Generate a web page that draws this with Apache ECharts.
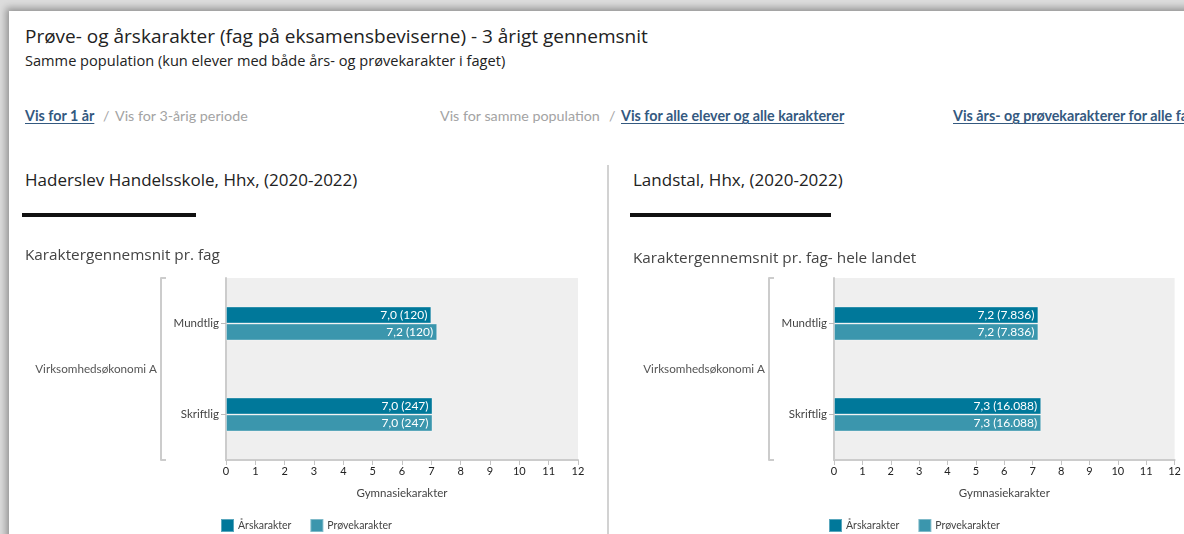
<!DOCTYPE html>
<html>
<head>
<meta charset="utf-8">
<title>Prøve- og årskarakter</title>
<script src="https://cdn.jsdelivr.net/npm/echarts@6/dist/echarts.min.js"></script>
<style>
	html, body { margin: 0; padding: 0; width: 1184px; height: 534px; overflow: hidden; background: #dcdcdc; }
	#card { position: absolute; left: 9px; top: 11px; width: 1220px; height: 560px; background: #fff; box-shadow: 0 0 7px 3px rgba(0, 0, 0, 0.33); }
	.t { position: absolute; white-space: nowrap; line-height: 1; }
	.h1 { font-family: 'Open Sans'; font-size: 19px; color: #222; }
	.h2 { font-family: 'Open Sans'; font-size: 14.6px; color: #222; }
	.lnk, .off, .sep { top: 109px; font-family: Lato; font-size: 14.3px; }
	.lnk { color: #34597f; font-weight: bold; text-decoration: underline; text-underline-offset: 2px; }
	.off, .sep { color: #a3a3a3; }
	.school { top: 171px; font-family: 'Open Sans'; font-size: 17px; color: #222; }
	.rule { position: absolute; top: 213px; height: 4px; background: #111; }
	#divider { position: absolute; left: 607px; top: 165px; width: 2px; height: 400px; background: #d2d2d2; }
	#chart { position: absolute; left: 0; top: 0; width: 1184px; height: 534px; }
</style>
</head>
<body>
<div id="card"></div>

<div class="t h1" style="left:25px; top:27px;">Prøve- og årskarakter (fag på eksamensbeviserne) - 3 årigt gennemsnit</div>
<div class="t h2" style="left:25px; top:53px;">Samme population (kun elever med både års- og prøvekarakter i faget)</div>

<div class="t lnk" style="left:25px;">Vis for 1 år</div>
<div class="t sep" style="left:103px;">/</div>
<div class="t off" style="left:115px;">Vis for 3-årig periode</div>
<div class="t off" style="left:440px;">Vis for samme population</div>
<div class="t sep" style="left:609px;">/</div>
<div class="t lnk" style="left:621px;">Vis for alle elever og alle karakterer</div>
<div class="t lnk" style="left:953px;">Vis års- og prøvekarakterer for alle fag</div>

<div id="divider"></div>

<div class="t school" style="left:25px;">Haderslev Handelsskole, Hhx, (2020-2022)</div>
<div class="rule" style="left:22px; width:174px;"></div>
<div class="t school" style="left:633px;">Landstal, Hhx, (2020-2022)</div>
<div class="rule" style="left:630px; width:201px;"></div>

<div id="chart"></div>

<script>
	// data
	const categories = ['Mundtlig', 'Skriftlig'];
	const groupLabel = ['Virksomhedsøkonomi A'];
	const seriesNames = ['Årskarakter', 'Prøvekarakter'];

	// Haderslev Handelsskole
	const schoolAars = [7.0, 7.04];
	const schoolAarsCount = [120, 247];
	const schoolProeve = [7.2, 7.04];
	const schoolProeveCount = [120, 247];

	// hele landet
	const landAars = [7.2, 7.3];
	const landAarsCount = [7836, 16088];
	const landProeve = [7.2, 7.3];
	const landProeveCount = [7836, 16088];

	const COLORS = ['#00789a', '#3b96ad'];
	const FONT = 'Lato';

	function fmtVal(v) {
		return v.toFixed(1).replace('.', ',');
	}

	function fmtCount(n) {
		return String(n).replace(/\B(?=(\d{3})+(?!\d))/g, '.');
	}

	function barSeries(name, values, counts, color, idx) {
		return {
			type: 'bar',
			name: name,
			xAxisIndex: idx,
			yAxisIndex: idx * 2,
			data: values,
			barWidth: 17,
			barGap: '0%',
			itemStyle: {
				color: color,
				borderColor: 'rgba(255,255,255,0.35)',
				borderWidth: 1
			},
			label: {
				show: true,
				position: 'insideRight',
				distance: 4,
				color: '#fff',
				fontFamily: FONT,
				fontSize: 12,
				formatter: p => fmtVal(p.value) + ' (' + fmtCount(counts[p.dataIndex]) + ')'
			},
			emphasis: { disabled: true }
		};
	}

	function xAxisFor(idx) {
		return {
			gridIndex: idx,
			type: 'value',
			min: 0,
			max: 12,
			interval: 1,
			name: 'Gymnasiekarakter',
			nameLocation: 'middle',
			nameGap: 27,
			nameTextStyle: { fontFamily: FONT, fontSize: 11.5, color: '#444' },
			axisLine: { show: true, lineStyle: { color: '#cccccc', width: 2 } },
			axisTick: { show: true, length: 5, lineStyle: { color: '#c4c4c4' } },
			axisLabel: { fontFamily: FONT, fontSize: 11, color: '#222', margin: 6 },
			splitLine: { show: false }
		};
	}

	function yAxesFor(idx) {
		return [{
			gridIndex: idx,
			type: 'category',
			data: categories,
			inverse: true,
			axisLine: { show: true, lineStyle: { color: '#cccccc', width: 2 } },
			axisTick: { show: true, alignWithLabel: true, length: 5, lineStyle: { color: '#bbbbbb' } },
			axisLabel: { fontFamily: FONT, fontSize: 11.5, color: '#444', margin: 7 }
		}, {
			// fag-gruppering (klamme)
			gridIndex: idx,
			type: 'category',
			data: groupLabel,
			position: 'left',
			offset: 65,
			axisLine: { show: true, lineStyle: { color: '#cccccc', width: 2 } },
			axisTick: { show: true, inside: true, length: 5, lineStyle: { color: '#cccccc', width: 2 } },
			axisLabel: { fontFamily: FONT, fontSize: 11.7, color: '#555', margin: 4 }
		}];
	}

	function legendAt(left) {
		return {
			left: left,
			top: 513,
			icon: 'rect',
			itemWidth: 13,
			itemHeight: 13,
			itemGap: 18,
			data: seriesNames,
			textStyle: { fontFamily: FONT, fontSize: 10.5, color: '#444', padding: [0, 0, 0, -1] }
		};
	}

	const chart = echarts.init(document.getElementById('chart'));

	const option = {
		animation: false,
		textStyle: { fontFamily: FONT },
		title: [{
			text: 'Karaktergennemsnit pr. fag',
			left: 25,
			top: 248,
			padding: 0,
			textStyle: { fontFamily: 'Open Sans', fontSize: 15.3, fontWeight: 'normal', color: '#444' }
		}, {
			text: 'Karaktergennemsnit pr. fag- hele landet',
			left: 633,
			top: 251,
			padding: 0,
			textStyle: { fontFamily: 'Open Sans', fontSize: 15.3, fontWeight: 'normal', color: '#444' }
		}],
		legend: [legendAt(215), legendAt(823)],
		grid: [{
			left: 226, right: 606, top: 278, bottom: 74,
			show: true, backgroundColor: '#efefef', borderWidth: 0
		}, {
			left: 834, right: 0, top: 278, bottom: 74,
			show: true, backgroundColor: '#efefef', borderWidth: 0
		}],
		xAxis: [xAxisFor(0), xAxisFor(1)],
		yAxis: yAxesFor(0).concat(yAxesFor(1)),
		series: [
			barSeries(seriesNames[0], schoolAars, schoolAarsCount, COLORS[0], 0),
			barSeries(seriesNames[1], schoolProeve, schoolProeveCount, COLORS[1], 0),
			barSeries(seriesNames[0], landAars, landAarsCount, COLORS[0], 1),
			barSeries(seriesNames[1], landProeve, landProeveCount, COLORS[1], 1)
		]
	};

	chart.setOption(option);
</script>
</body>
</html>
